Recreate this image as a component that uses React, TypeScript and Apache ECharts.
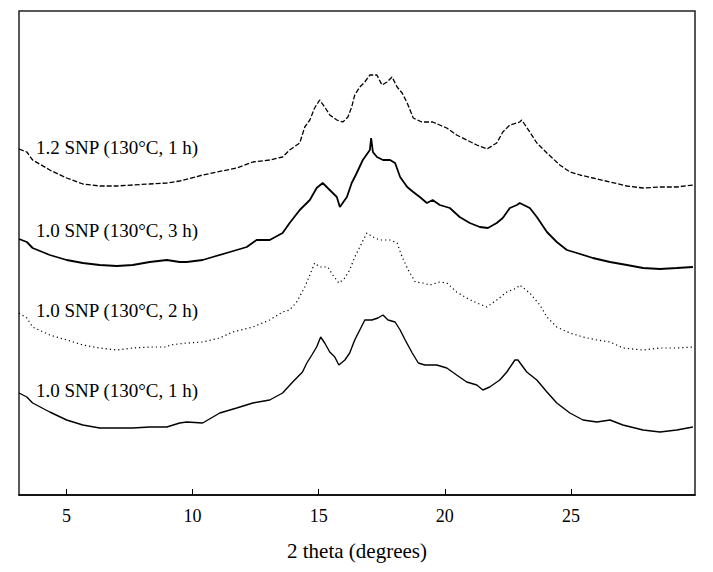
import React, { useEffect, useRef } from "react";
import * as echarts from "echarts";

// x: 2 theta (degrees), y: relative intensity (arbitrary units, stacked offsets as drawn)
const xTicks = [5, 10, 15, 20, 25];
const xMin = 3.12;
const xMax = 29.92;

const labels = [
  "1.2 SNP (130°C, 1 h)",
  "1.0 SNP (130°C, 3 h)",
  "1.0 SNP (130°C, 2 h)",
  "1.0 SNP (130°C, 1 h)",
];

const snp12_1h: [number, number][] = [
  [3.12, 346], [3.43, 343], [3.66, 335], [4.34, 325], [5.01, 317], [5.65, 311], [6.32, 309],
  [7.0, 309], [7.63, 310], [8.3, 311], [8.98, 312], [9.49, 314], [10.4, 320], [11.75, 327],
  [12.39, 333], [13.06, 335], [13.57, 338], [13.85, 345], [14.25, 352], [14.45, 368],
  [14.65, 375], [14.84, 387], [15.04, 395], [15.24, 388], [15.44, 380], [15.72, 375],
  [15.96, 373], [16.16, 378], [16.31, 388], [16.43, 400], [16.63, 408], [16.83, 413],
  [17.03, 420], [17.31, 420], [17.51, 410], [17.71, 413], [17.91, 418], [18.11, 408],
  [18.31, 402], [18.51, 392], [18.75, 377], [19.09, 373], [19.52, 373],
  [19.8, 370], [20.08, 367], [20.47, 360], [20.87, 355], [21.27, 350], [21.67, 346],
  [22.06, 352], [22.3, 363], [22.58, 370], [22.97, 373], [23.05, 375], [23.37, 363],
  [23.65, 352], [24.05, 342], [24.56, 330], [24.96, 323], [25.36, 320], [25.87, 317],
  [26.55, 313], [27.22, 309], [27.86, 307], [28.53, 308], [29.2, 308], [29.84, 310],
];

const snp10_3h: [number, number][] = [
  [3.12, 256], [3.43, 253], [3.66, 247], [4.34, 240], [5.01, 235], [5.65, 232], [6.32, 230],
  [7.0, 229], [7.63, 230], [8.3, 233], [8.98, 235], [9.49, 233], [9.77, 233], [10.4, 235],
  [10.8, 238], [11.48, 243], [12.15, 248], [12.54, 255], [13.06, 255], [13.57, 262],
  [13.85, 272], [14.25, 285], [14.65, 295], [14.92, 307], [15.16, 312], [15.44, 305],
  [15.72, 298], [15.84, 288], [16.12, 298], [16.31, 312], [16.51, 322], [16.75, 335],
  [17.03, 345], [17.08, 357], [17.15, 343], [17.31, 338], [17.55, 335], [17.83, 335],
  [18.03, 332], [18.23, 318], [18.51, 308], [18.75, 303], [19.01, 298], [19.29, 292],
  [19.52, 295], [19.8, 290], [20.2, 287], [20.59, 278], [20.99, 272], [21.39, 268],
  [21.71, 267], [22.06, 272], [22.3, 277], [22.58, 287], [22.86, 290], [22.97, 292],
  [23.37, 287], [23.65, 278], [24.05, 263], [24.44, 253], [24.84, 245], [25.24, 242],
  [25.87, 237], [26.55, 233], [27.22, 230], [27.86, 227], [28.53, 226], [29.2, 227],
  [29.84, 228],
];

const snp10_2h: [number, number][] = [
  [3.12, 182], [3.43, 177], [3.66, 168], [4.34, 160], [5.01, 155], [5.65, 150], [6.32, 147],
  [7.0, 145], [7.63, 147], [8.3, 148], [8.98, 148], [9.1, 150], [9.77, 152], [10.4, 153],
  [11.08, 157], [11.59, 163], [12.39, 168], [13.06, 175], [13.57, 183], [13.85, 185],
  [14.13, 193], [14.45, 208], [14.65, 220], [14.84, 232], [15.04, 228], [15.36, 228],
  [15.56, 220], [15.8, 212], [16.04, 217], [16.23, 225], [16.43, 238], [16.71, 252],
  [16.91, 262], [17.15, 258], [17.43, 255], [17.83, 255], [18.11, 252], [18.31, 238],
  [18.55, 225], [18.83, 213], [19.13, 212], [19.41, 210], [19.8, 213], [20.08, 212],
  [20.47, 203], [20.87, 197], [21.27, 192], [21.67, 188], [22.06, 195], [22.46, 203],
  [22.86, 207], [22.97, 210], [23.37, 202], [23.77, 190], [24.05, 178], [24.44, 168],
  [24.96, 162], [25.48, 158], [26.03, 155], [26.55, 153], [27.06, 147], [27.86, 145],
  [28.53, 147], [29.2, 147], [29.84, 148],
];

const snp10_1h: [number, number][] = [
  [3.12, 102], [3.43, 98], [3.66, 92], [4.34, 83], [5.01, 75], [5.65, 70], [6.32, 67],
  [7.0, 67], [7.63, 67], [8.3, 68], [8.98, 68], [9.49, 72], [9.77, 73], [10.4, 72],
  [11.08, 82], [11.75, 87], [12.39, 92], [13.06, 95], [13.57, 102], [13.97, 113],
  [14.36, 123], [14.53, 132], [14.73, 140], [14.92, 148], [15.08, 158], [15.24, 152],
  [15.44, 143], [15.64, 138], [15.8, 130], [16.04, 135], [16.23, 142], [16.43, 155],
  [16.63, 165], [16.83, 175], [17.11, 175], [17.35, 177], [17.55, 180], [17.75, 175],
  [18.03, 173], [18.23, 165], [18.43, 155], [18.71, 142], [18.95, 132], [19.21, 130],
  [19.68, 130], [20.08, 127], [20.47, 120], [20.87, 113], [21.27, 110],
  [21.51, 105], [21.78, 108], [22.18, 115], [22.46, 123], [22.78, 135], [22.9, 135],
  [23.25, 123], [23.65, 115], [24.05, 103], [24.44, 92], [24.96, 82], [25.48, 75],
  [26.03, 73], [26.55, 75], [27.06, 70], [27.86, 65], [28.53, 63], [29.2, 65], [29.84, 68],
];

const FONT = "'Liberation Serif', 'Times New Roman', serif";

export default function App() {
  const ref = useRef<HTMLDivElement>(null);
  useEffect(() => {
    if (!ref.current) return;
    const chart = echarts.init(ref.current, undefined, { renderer: "svg" });
    const labelYs = [149, 232, 312, 392];
    chart.setOption({
      animation: false,
      backgroundColor: "#fff",
      grid: {
        left: 19,
        right: 18,
        top: 11,
        bottom: 77,
        containLabel: false,
        outerBoundsMode: "none",
        show: true,
        borderColor: "#222",
        borderWidth: 1.5,
      },
      xAxis: {
        type: "value",
        min: xMin,
        max: xMax,
        name: "2 theta (degrees)",
        nameLocation: "middle",
        nameGap: 45,
        nameTextStyle: { fontFamily: FONT, fontSize: 21, color: "#000" },
        axisLine: { show: true, lineStyle: { color: "#000", width: 1.5 } },
        axisTick: {
          show: true,
          inside: true,
          length: 6,
          customValues: xTicks,
          lineStyle: { color: "#000", width: 1 },
        },
        axisLabel: {
          show: true,
          customValues: xTicks,
          margin: 12,
          fontFamily: FONT,
          fontSize: 18,
          color: "#000",
        },
        splitLine: { show: false },
      },
      yAxis: {
        type: "value",
        min: 0,
        max: 484,
        show: false,
        splitLine: { show: false },
      },
      graphic: labels.map((t, i) => ({
        type: "text",
        left: 36,
        top: labelYs[i] - 11,
        style: { text: t, fontFamily: FONT, fontSize: 19, fill: "#000" },
      })),
      series: [
        {
          type: "line",
          data: snp12_1h,
          showSymbol: false,
          lineStyle: { color: "#000", width: 1.3, type: [5, 2] },
        },
        {
          type: "line",
          data: snp10_3h,
          showSymbol: false,
          lineStyle: { color: "#000", width: 1.8 },
        },
        {
          type: "line",
          data: snp10_2h,
          showSymbol: false,
          lineStyle: { color: "#000", width: 1.2, type: [1.2, 3] },
        },
        {
          type: "line",
          data: snp10_1h,
          showSymbol: false,
          lineStyle: { color: "#000", width: 1.4 },
        },
      ],
    });
    return () => chart.dispose();
  }, []);
  return (
    <div
      ref={ref}
      style={{ position: "fixed", left: 0, top: 0, width: 713, height: 572, background: "#fff" }}
    />
  );
}
